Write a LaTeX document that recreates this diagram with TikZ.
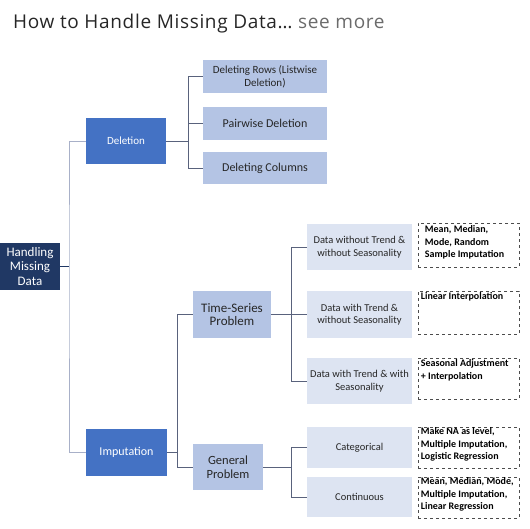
\documentclass[tikz,border=0pt]{standalone}
\usepackage{fontspec}
\setmainfont{Carlito}
\newfontfamily\titlefont[LetterSpace=3.5]{Open Sans}
\definecolor{navy}{HTML}{203864}
\definecolor{midblue}{HTML}{4472C4}
\definecolor{paleblue}{HTML}{B4C4E4}
\definecolor{lightblue}{HTML}{DDE4F2}
\definecolor{spinegrey}{HTML}{A8B0C8}
\definecolor{linkgrey}{HTML}{59627C}
\definecolor{seegrey}{HTML}{6B6B6B}
\tikzset{
  box/.style={inner sep=0pt, align=center, font=\fontsize{10.5}{12.5}\selectfont},
  rootbox/.style={box, fill=navy, text=white, font=\fontsize{13}{14.5}\selectfont},
  mainbox/.style={box, fill=midblue, text=white},
  subbox/.style={box, fill=paleblue, text=black!85},
  leafbox/.style={box, fill=lightblue, text=black!85},
  ansbox/.style={draw=black!70, dashed, line width=0.6pt, inner sep=0pt, minimum width=101pt},
  anstext/.style={anchor=north west, inner sep=0pt, align=left, font=\bfseries\fontsize{10}{12.5}\selectfont},
  link/.style={draw=linkgrey, line width=0.9pt},
  spine/.style={draw=spinegrey, line width=0.9pt}
}
\begin{document}
\begin{tikzpicture}[x=1pt,y=-1pt]
\useasboundingbox (0,0) rectangle (530,528);

\node[anchor=base west, inner sep=0pt, font=\titlefont\fontsize{19}{21}\selectfont, text=black!85] (title) at (13,28)
  {How to Handle Missing Data\dots{} \textcolor{seegrey}{see more}};

\node[rootbox, minimum width=60pt, minimum height=47pt] (hmd) at (30,266.5) {Handling\\Missing\\Data};
\node[mainbox, minimum width=80pt, minimum height=46pt, font=\fontsize{11}{13}\selectfont] (del) at (126,141) {Deletion};
\node[mainbox, minimum width=81pt, minimum height=47pt, font=\fontsize{12}{14}\selectfont] (imp) at (126.5,452.5) {Imputation};

\node[subbox, minimum width=124pt, minimum height=33pt, font=\fontsize{11}{13}\selectfont] (rows) at (265,76.5) {Deleting Rows (Listwise\\Deletion)};
\node[subbox, minimum width=124pt, minimum height=33pt, font=\fontsize{12}{14}\selectfont] (pair) at (265,123.5) {Pairwise Deletion};
\node[subbox, minimum width=124pt, minimum height=32pt, font=\fontsize{12}{14}\selectfont] (cols) at (265,168) {Deleting Columns};

\node[subbox, minimum width=78pt, minimum height=47pt, font=\fontsize{13}{13.5}\selectfont] (ts) at (232,314.5) {Time-Series\\Problem};
\node[subbox, minimum width=70pt, minimum height=46pt, font=\fontsize{12.5}{13.5}\selectfont] (gen) at (228,467) {General\\Problem};

\node[leafbox, minimum width=105pt, minimum height=46pt] (d1) at (359.5,247) {Data without Trend \&\\without Seasonality};
\node[leafbox, minimum width=105pt, minimum height=47pt] (d2) at (359.5,314.5) {Data with Trend \&\\without Seasonality};
\node[leafbox, minimum width=105pt, minimum height=46pt] (d3) at (359.5,381) {Data with Trend \& with\\Seasonality};
\node[leafbox, minimum width=105pt, minimum height=41pt] (cat) at (359.5,447.5) {Categorical};
\node[leafbox, minimum width=105pt, minimum height=40pt] (cont) at (359.5,497) {Continuous};

% dashed answer boxes, text set from the top left corner
\node[ansbox, minimum height=44pt] (m1) at (468.5,245) {};
\node[ansbox, minimum height=43pt] (m2) at (468.5,312.5) {};
\node[ansbox, minimum height=41pt] (m3) at (468.5,378.5) {};
\node[ansbox, minimum height=41pt] (m4) at (468.5,447.5) {};
\node[ansbox, minimum height=41pt] (m5) at (468.5,497.5) {};
\node[anstext] (t1) at ([xshift=7pt,yshift=-3pt]m1.north west) {Mean, Median,\\Mode, Random\\Sample Imputation};
\node[anstext] (t2) at ([xshift=3pt,yshift=-2pt]m2.north west) {Linear Interpolation};
\node[anstext] (t3) at ([xshift=3pt,yshift=-2pt]m3.north west) {Seasonal Adjustment\\+ Interpolation};
\node[anstext] (t4) at ([xshift=3pt,yshift=-1pt]m4.north west) {Make NA as level,\\Multiple Imputation,\\Logistic Regression};
\node[anstext] (t5) at ([xshift=3pt,yshift=-1pt]m5.north west) {Mean, Median, Mode,\\Multiple Imputation,\\Linear Regression};

\coordinate (j0) at (69,266.5);
\coordinate (j1) at (188,141);
\coordinate (j2) at (177,452.5);
\coordinate (j3) at (291,314.5);
\coordinate (j4) at (291,467);

\draw[spine] (del.west) -| (j0) |- (imp.west);
\draw[link, draw=navy] (hmd.east) -- (j0);
\draw[link] (del.east) -- (j1);
\foreach \n in {rows,pair,cols}
  \draw[link] (j1) |- (\n.west);
\draw[link] (imp.east) -- (j2);
\foreach \n in {ts,gen}
  \draw[link] (j2) |- (\n.west);
\draw[link] (ts.east) -- (j3);
\foreach \n in {d1,d2,d3}
  \draw[link] (j3) |- (\n.west);
\draw[link] (gen.east) -- (j4);
\foreach \n in {cat,cont}
  \draw[link] (j4) |- (\n.west);
\end{tikzpicture}
\end{document}
